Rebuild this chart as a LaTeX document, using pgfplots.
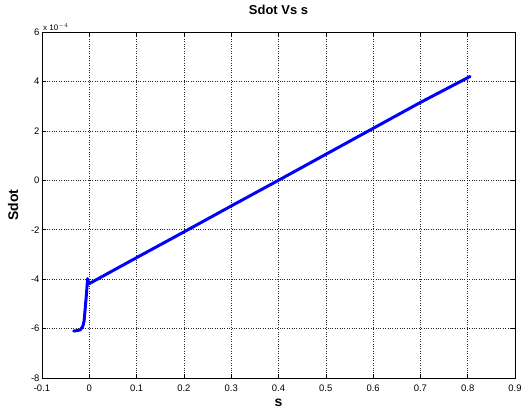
\documentclass[border=0pt]{standalone}
\usepackage{pgfplots}
\pgfplotsset{compat=1.18}
\usepackage{fontspec}
\setmainfont{Liberation Sans}
\begin{document}
\begin{tikzpicture}[x=1bp,y=1bp]
\useasboundingbox (-42bp,-34bp) rectangle (486bp,378bp);
\begin{axis}[
  scale only axis,
  width=473bp, height=346bp,
  xmin=-0.1, xmax=0.9,
  ymin=-8, ymax=6,
  xtick={-0.1,0,0.1,0.2,0.3,0.4,0.5,0.6,0.7,0.8,0.9},
  xticklabels={-0.1,0,0.1,0.2,0.3,0.4,0.5,0.6,0.7,0.8,0.9},
  ytick={-8,-6,-4,-2,0,2,4,6},
  /pgf/number format/assume math mode=true,
  tick label style={font=\fontsize{9.5}{11}\selectfont},
  xticklabel style={yshift=-3bp},
  yticklabel style={xshift=1bp},
  tick align=inside,
  tick pos=both,
  major tick length=4bp,
  tick style={black, line width=0.6pt},
  axis line style={black, line width=0.6pt},
  grid=major,
  grid style={black!85, dash pattern=on 0.8bp off 1.6bp, line width=0.5pt},
  title={\bfseries Sdot Vs s},
  title style={font=\fontsize{13}{15}\selectfont,
    at={(axis description cs:0.5,1.046)}, anchor=center},
  xlabel={\bfseries s},
  ylabel={\bfseries Sdot},
  label style={font=\fontsize{14}{16}\selectfont},
  xlabel style={at={(axis description cs:0.5,-0.072)}, anchor=center},
  ylabel style={at={(axis description cs:-0.061,0.5)}, anchor=center},
  clip=false
]
  % Sdot in units of 1e-4
  \addplot[blue, line width=3pt, line join=round, line cap=round]
    coordinates {
      (-0.033, -6.10)
      (-0.025, -6.08)
      (-0.019, -6.05)
      (-0.014, -5.92)
      (-0.011, -5.70)
      (-0.0085, -5.15)
      (-0.006, -4.60)
      (-0.004, -4.10)
      (-0.0035, -3.98)
      (-0.002, -4.10)
      (0.000, -4.18)
      (0.100, -3.13)
      (0.200, -2.09)
      (0.300, -1.04)
      (0.400, 0.00)
      (0.500, 1.05)
      (0.600, 2.10)
      (0.700, 3.15)
      (0.805, 4.20)
    };
  \node[anchor=south west, font=\fontsize{8}{9}\selectfont, inner sep=1bp]
    at (axis cs:-0.1,6) {x 10$^{-4}$};
\end{axis}
\end{tikzpicture}
\end{document}
